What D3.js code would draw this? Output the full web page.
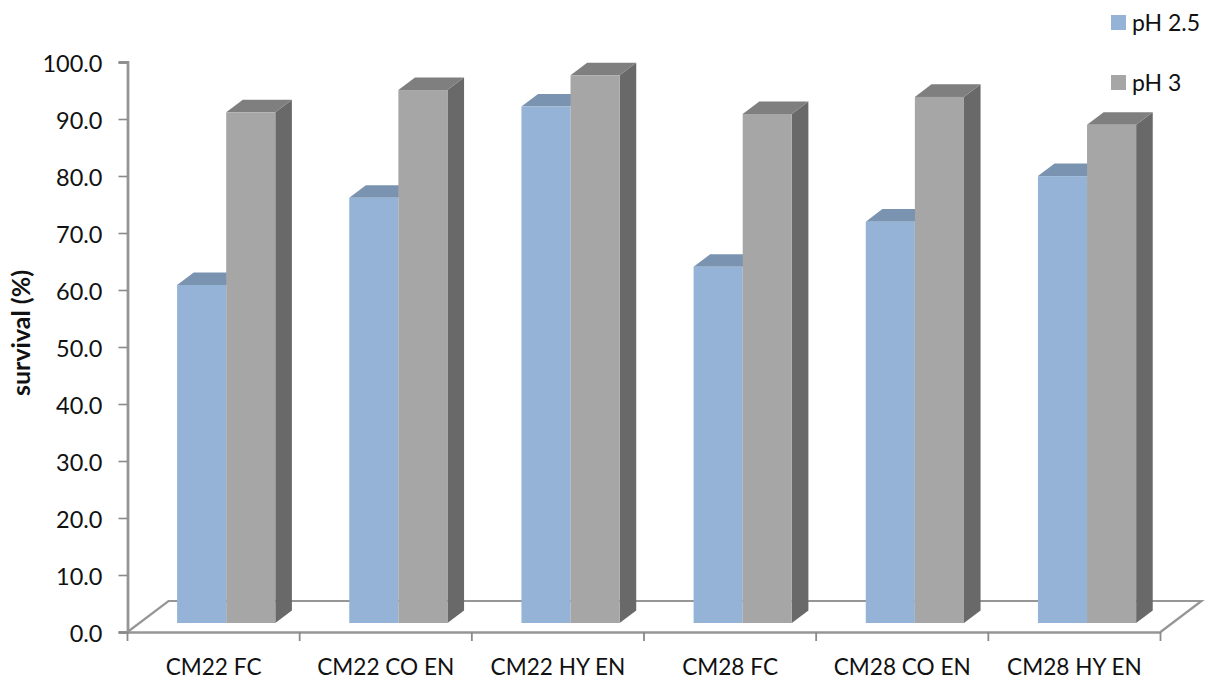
<!DOCTYPE html>
<html>
<head>
<meta charset="utf-8">
<script src="https://cdn.jsdelivr.net/npm/d3@7"></script>
<style>
html,body{margin:0;padding:0;background:#fff}
svg{display:block}
text{font-family:Lato,"Open Sans",sans-serif;fill:#111}
</style>
</head>
<body>
<svg id="chart" width="1212" height="680"></svg>
<script>
const categories = ["CM22 FC","CM22 CO EN","CM22 HY EN","CM28 FC","CM28 CO EN","CM28 HY EN"];
const seriesNames = ["pH 2.5","pH 3"];
const ph25 = [59.3,74.6,90.6,62.5,70.4,78.4];
const ph3 = [89.6,93.5,96.1,89.3,92.3,87.4];
const yTicks = [0,10,20,30,40,50,60,70,80,90,100];

const front = "#95b3d7", frontGrey = "#a6a6a6";
const topBlue = "#7a93b1", topGrey = "#7f7f7f", sideGrey = "#696969";
const axisGrey = "#969696", tickGrey = "#8a8a8a";

// Oblique projection: the floor recedes right and up from the front edge.
const floorDX = 41, floorDY = -31;    // whole floor depth
const barDY = -9;                     // bar front face sits this far back
const depthDX = 16.6, depthDY = -12.6; // depth of a bar

const svg = d3.select("#chart");
const x = d3.scaleBand().domain(categories).range([127.5,1160.5]);
const y = d3.scaleLinear().domain([0,100]).range([632,62]);
const inner = d3.scaleBand().domain(seriesNames).range([0,98.2]);
const barLeft = 49.6;

// Floor outline behind the bars
const x0 = x.range()[0], x1 = x.range()[1], y0 = y(0);
svg.append("path")
  .attr("d", `M${x0},${y0}L${x0+floorDX},${y0+floorDY}L${x1+floorDX},${y0+floorDY}L${x1},${y0}`)
  .attr("fill","none").attr("stroke",axisGrey).attr("stroke-width",2.2);

// Value axis
const yAxis = svg.append("g").attr("transform",`translate(${x0},0)`)
  .call(d3.axisLeft(y).tickValues(yTicks).tickFormat(d3.format(".1f")).tickSize(9).tickPadding(16));
yAxis.selectAll(".tick text").attr("dy","0.42em").style("font-size","23.5px");
yAxis.select(".domain").attr("stroke",axisGrey).attr("stroke-width",2.8);
yAxis.selectAll(".tick line").attr("stroke",tickGrey).attr("stroke-width",1.6);

// Category axis, with ticks on the band boundaries
const xAxis = svg.append("g").attr("transform",`translate(0,${y0})`)
  .call(d3.axisBottom(x).tickSize(0).tickPadding(27));
xAxis.selectAll(".tick line").remove();
xAxis.selectAll(".tick").append("line")
  .attr("x1",-x.step()/2).attr("x2",-x.step()/2).attr("y1",0).attr("y2",9);
xAxis.append("line").attr("x1",x1).attr("x2",x1).attr("y1",0).attr("y2",9);
xAxis.selectAll("line").attr("stroke",tickGrey).attr("stroke-width",1.8);
xAxis.select(".domain").attr("stroke",axisGrey).attr("stroke-width",2.4);
xAxis.selectAll(".tick text").style("font-size","22.6px");
svg.selectAll(".tick text").attr("fill","#111");

// Bars: each column has front, top and side faces
function drawSeries(values, name, faceColor, topColor, withSide){
  const g = svg.append("g");
  categories.forEach((c,i)=>{
    const left = x(c)+barLeft+inner(name), w = inner.bandwidth();
    const top = y(values[i])+barDY, base = y(0)+barDY;
    if(withSide){
      g.append("path").attr("fill",sideGrey)
       .attr("d",`M${left+w},${top}l${depthDX},${depthDY}V${base+depthDY}L${left+w},${base}Z`);
    }
    g.append("path").attr("fill",topColor)
     .attr("d",`M${left},${top}l${depthDX},${depthDY}h${w}l${-depthDX},${-depthDY}Z`);
    g.append("rect").attr("x",left).attr("y",top).attr("width",w).attr("height",base-top).attr("fill",faceColor);
  });
}
drawSeries(ph25, seriesNames[0], front, topBlue, false);
drawSeries(ph3, seriesNames[1], frontGrey, topGrey, true);

// Axis title
svg.append("text").attr("transform","translate(30,333) rotate(-90)")
  .attr("text-anchor","middle").style("font-size","25px").style("font-weight",700).text("survival (%)");

// Legend
const legendY = d3.scalePoint().domain(seriesNames).range([23,83]);
const legendColor = d3.scaleOrdinal().domain(seriesNames).range([front,frontGrey]);
seriesNames.forEach(n=>{
  svg.append("rect").attr("x",1111).attr("y",legendY(n)-8).attr("width",15).attr("height",15).attr("fill",legendColor(n));
  svg.append("text").attr("x",1132).attr("y",legendY(n)+8).style("font-size","23px").text(n);
});
</script>
</body>
</html>
